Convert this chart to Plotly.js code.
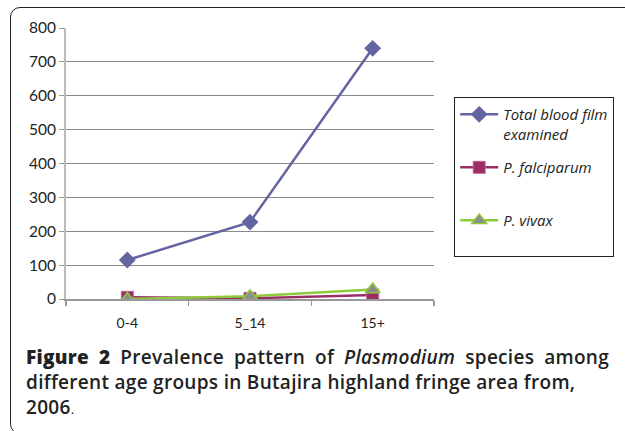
<!DOCTYPE html>
<html><head><meta charset="utf-8">
<script src="https://cdn.plot.ly/plotly-3.0.1.min.js"></script>
<style>
html,body{margin:0;padding:0;background:#fff;}
#wrap{position:relative;width:625px;height:431px;overflow:hidden;background:#fff;}
#frame{position:absolute;left:10px;top:7px;width:720px;height:427px;border:1.5px solid #222;border-radius:10px;box-sizing:border-box;}
#chart{position:absolute;left:0;top:0;width:625px;height:431px;}
#caption{position:absolute;left:26px;top:345px;width:583px;font-family:'Open Sans',sans-serif;font-size:19px;letter-spacing:0.3px;line-height:25px;color:#222;font-weight:600;}
#caption .l1{display:block;text-align:justify;text-align-last:justify;}
#caption b{font-weight:800;}
</style></head>
<body>
<div id="wrap">
<div id="frame"></div>
<div id="chart"></div>
<div id="caption"><span class="l1"><b>Figure 2</b> Prevalence pattern of <i>Plasmodium</i> species among</span><span style="display:block">different age groups in Butajira highland fringe area from,</span><span style="display:block">2006<span style="font-weight:400;font-size:13px">.</span></span></div>
</div>
<script>
const categories = ["0-4", "5_14", "15+"];
const totalExamined = [115, 227, 740];
const falciparum = [5, 2, 12];
const vivax = [0, 8, 28];
const seriesNames = ["Total blood film<br>examined", "P. falciparum<br> ", "P. vivax<br> "];
const yTicks = [0, 100, 200, 300, 400, 500, 600, 700, 800];

const traces = [
  {x: categories, y: totalExamined, name: seriesNames[0], type: "scatter", mode: "lines+markers",
   legendgroup: "a",
   line: {color: "#6365A3", width: 2.5},
   marker: {symbol: "diamond", size: 13, color: "#6365A3"}},
  {x: categories, y: falciparum, name: seriesNames[1], type: "scatter", mode: "lines+markers",
   legendgroup: "b",
   line: {color: "#9A2F68", width: 2.5},
   marker: {symbol: "square", size: 12, color: "#9A2F68", line: {color: "#C8609A", width: 1}}},
  {x: categories, y: vivax, name: seriesNames[2], type: "scatter", mode: "lines+markers",
   legendgroup: "c",
   line: {color: "#8DCB3C", width: 2.5},
   marker: {symbol: "triangle-up", size: 13, color: "#8C8C8C", line: {color: "#8DCB3C", width: 1.5}}}
];

const layout = {
  width: 625, height: 431,
  margin: {l: 66, r: 190, t: 28, b: 132},
  paper_bgcolor: "rgba(0,0,0,0)", plot_bgcolor: "rgba(0,0,0,0)",
  font: {family: "Lato, 'Open Sans', sans-serif", color: "#222", size: 14},
  showlegend: true,
  legend: {x: 1.052, y: 0.745, xanchor: "left", yanchor: "top",
    bordercolor: "#222", borderwidth: 1, bgcolor: "rgba(0,0,0,0)",
    font: {family: "'Open Sans', sans-serif", size: 15, style: "italic", color: "#222"},
    tracegroupgap: 11, valign: "top", itemwidth: 38},
  xaxis: {type: "category", range: [-0.5, 2.5], showgrid: false, zeroline: false,
    showline: true, linecolor: "#999", linewidth: 1.5,
    ticks: "outside", tickson: "boundaries", ticklen: 5, tickcolor: "#999", tickwidth: 1.5,
    ticklabelstandoff: 11,
    tickfont: {size: 14}},
  yaxis: {range: [0, 800], tickvals: yTicks, showgrid: true, gridcolor: "#8a8a8a", gridwidth: 1,
    zeroline: false, showline: true, linecolor: "#bbb", linewidth: 2,
    ticks: "outside", ticklen: 5, tickcolor: "#999", tickfont: {size: 15.5}}
};

Plotly.newPlot("chart", traces, layout, {displayModeBar: false, staticPlot: true});
</script>
</body></html>
